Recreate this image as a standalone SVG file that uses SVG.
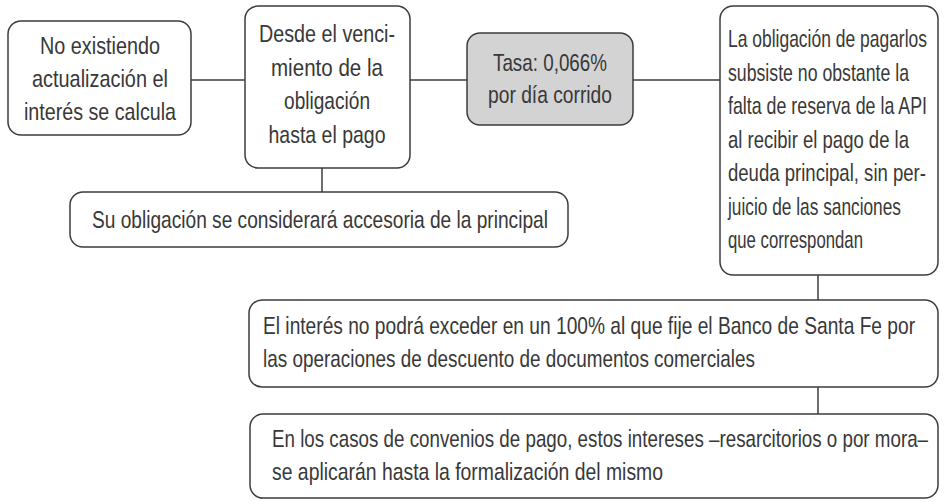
<svg xmlns="http://www.w3.org/2000/svg" width="945" height="504" viewBox="0 0 945 504">
<style>
.b{fill:#fff;stroke:#3c3c3c;stroke-width:1.5}
.g{fill:#d3d3d3;stroke:#3c3c3c;stroke-width:1.5}
.c{stroke:#3c3c3c;stroke-width:1.5;fill:none}
text{font-family:"Liberation Sans",Arial,sans-serif;font-size:24px;fill:#383838}
.m{text-anchor:middle}
</style>
<rect width="945" height="504" fill="#fff"/>
<g id="connectors">
<line class="c" x1="191" y1="80" x2="245" y2="80"/>
<line class="c" x1="410" y1="80" x2="467" y2="80"/>
<line class="c" x1="633" y1="80" x2="720" y2="80"/>
<line class="c" x1="322" y1="168" x2="322" y2="192"/>
<line class="c" x1="818" y1="275" x2="818" y2="300"/>
<line class="c" x1="818" y1="387" x2="818" y2="414"/>
</g>
<g id="n1">
<rect class="b" x="8" y="21" width="183" height="114" rx="13"/>
<g transform="scale(0.72,1)">
<text class="m" x="138.9" y="54" textLength="166.7" lengthAdjust="spacingAndGlyphs">No existiendo</text>
<text class="m" x="138.9" y="87" textLength="188.9" lengthAdjust="spacingAndGlyphs">actualización el</text>
<text class="m" x="138.9" y="120" textLength="211.1" lengthAdjust="spacingAndGlyphs">interés se calcula</text>
</g>
</g>
<g id="n2">
<rect class="b" x="245" y="6" width="165" height="162" rx="13"/>
<g transform="scale(0.72,1)">
<text class="m" x="454.2" y="42" textLength="188.9" lengthAdjust="spacingAndGlyphs">Desde el venci-</text>
<text class="m" x="454.2" y="76" textLength="155.6" lengthAdjust="spacingAndGlyphs">miento de la</text>
<text class="m" x="454.2" y="109" textLength="119.4" lengthAdjust="spacingAndGlyphs">obligación</text>
<text class="m" x="454.2" y="143" textLength="162.5" lengthAdjust="spacingAndGlyphs">hasta el pago</text>
</g>
</g>
<g id="n3">
<rect class="g" x="467" y="33" width="166" height="92" rx="13"/>
<g transform="scale(0.72,1)">
<text class="m" x="763.9" y="71" textLength="158.3" lengthAdjust="spacingAndGlyphs">Tasa: 0,066%</text>
<text class="m" x="763.9" y="103" textLength="172.2" lengthAdjust="spacingAndGlyphs">por día corrido</text>
</g>
</g>
<g id="n4">
<rect class="b" x="720" y="6" width="218" height="269" rx="13"/>
<g transform="scale(0.72,1)">
<text x="1011.1" y="47" textLength="276.4" lengthAdjust="spacingAndGlyphs">La obligación de pagarlos</text>
<text x="1011.1" y="81" textLength="251.4" lengthAdjust="spacingAndGlyphs">subsiste no obstante la</text>
<text x="1011.1" y="114" textLength="276.4" lengthAdjust="spacingAndGlyphs">falta de reserva de la API</text>
<text x="1011.1" y="148" textLength="251.4" lengthAdjust="spacingAndGlyphs">al recibir el pago de la</text>
<text x="1011.1" y="181" textLength="275" lengthAdjust="spacingAndGlyphs">deuda principal, sin per-</text>
<text x="1011.1" y="215" textLength="240.3" lengthAdjust="spacingAndGlyphs">juicio de las sanciones</text>
<text x="1011.1" y="248" textLength="187.5" lengthAdjust="spacingAndGlyphs">que correspondan</text>
</g>
</g>
<g id="n5">
<rect class="b" x="70" y="192" width="498" height="55" rx="13"/>
<g transform="scale(0.72,1)">
<text class="m" x="444.4" y="228" textLength="633.3" lengthAdjust="spacingAndGlyphs">Su obligación se considerará accesoria de la principal</text>
</g>
</g>
<g id="n6">
<rect class="b" x="249" y="300" width="689" height="87" rx="13"/>
<g transform="scale(0.72,1)">
<text x="365.3" y="334" textLength="905.6" lengthAdjust="spacingAndGlyphs">El interés no podrá exceder en un 100% al que fije el Banco de Santa Fe por</text>
<text x="365.3" y="367" textLength="683.3" lengthAdjust="spacingAndGlyphs">las operaciones de descuento de documentos comerciales</text>
</g>
</g>
<g id="n7">
<rect class="b" x="250" y="414" width="688" height="84" rx="13"/>
<g transform="scale(0.72,1)">
<text x="377.8" y="447" textLength="911.1" lengthAdjust="spacingAndGlyphs">En los casos de convenios de pago, estos intereses –resarcitorios o por mora–</text>
<text x="377.8" y="480" textLength="543.1" lengthAdjust="spacingAndGlyphs">se aplicarán hasta la formalización del mismo</text>
</g>
</g>
</svg>
